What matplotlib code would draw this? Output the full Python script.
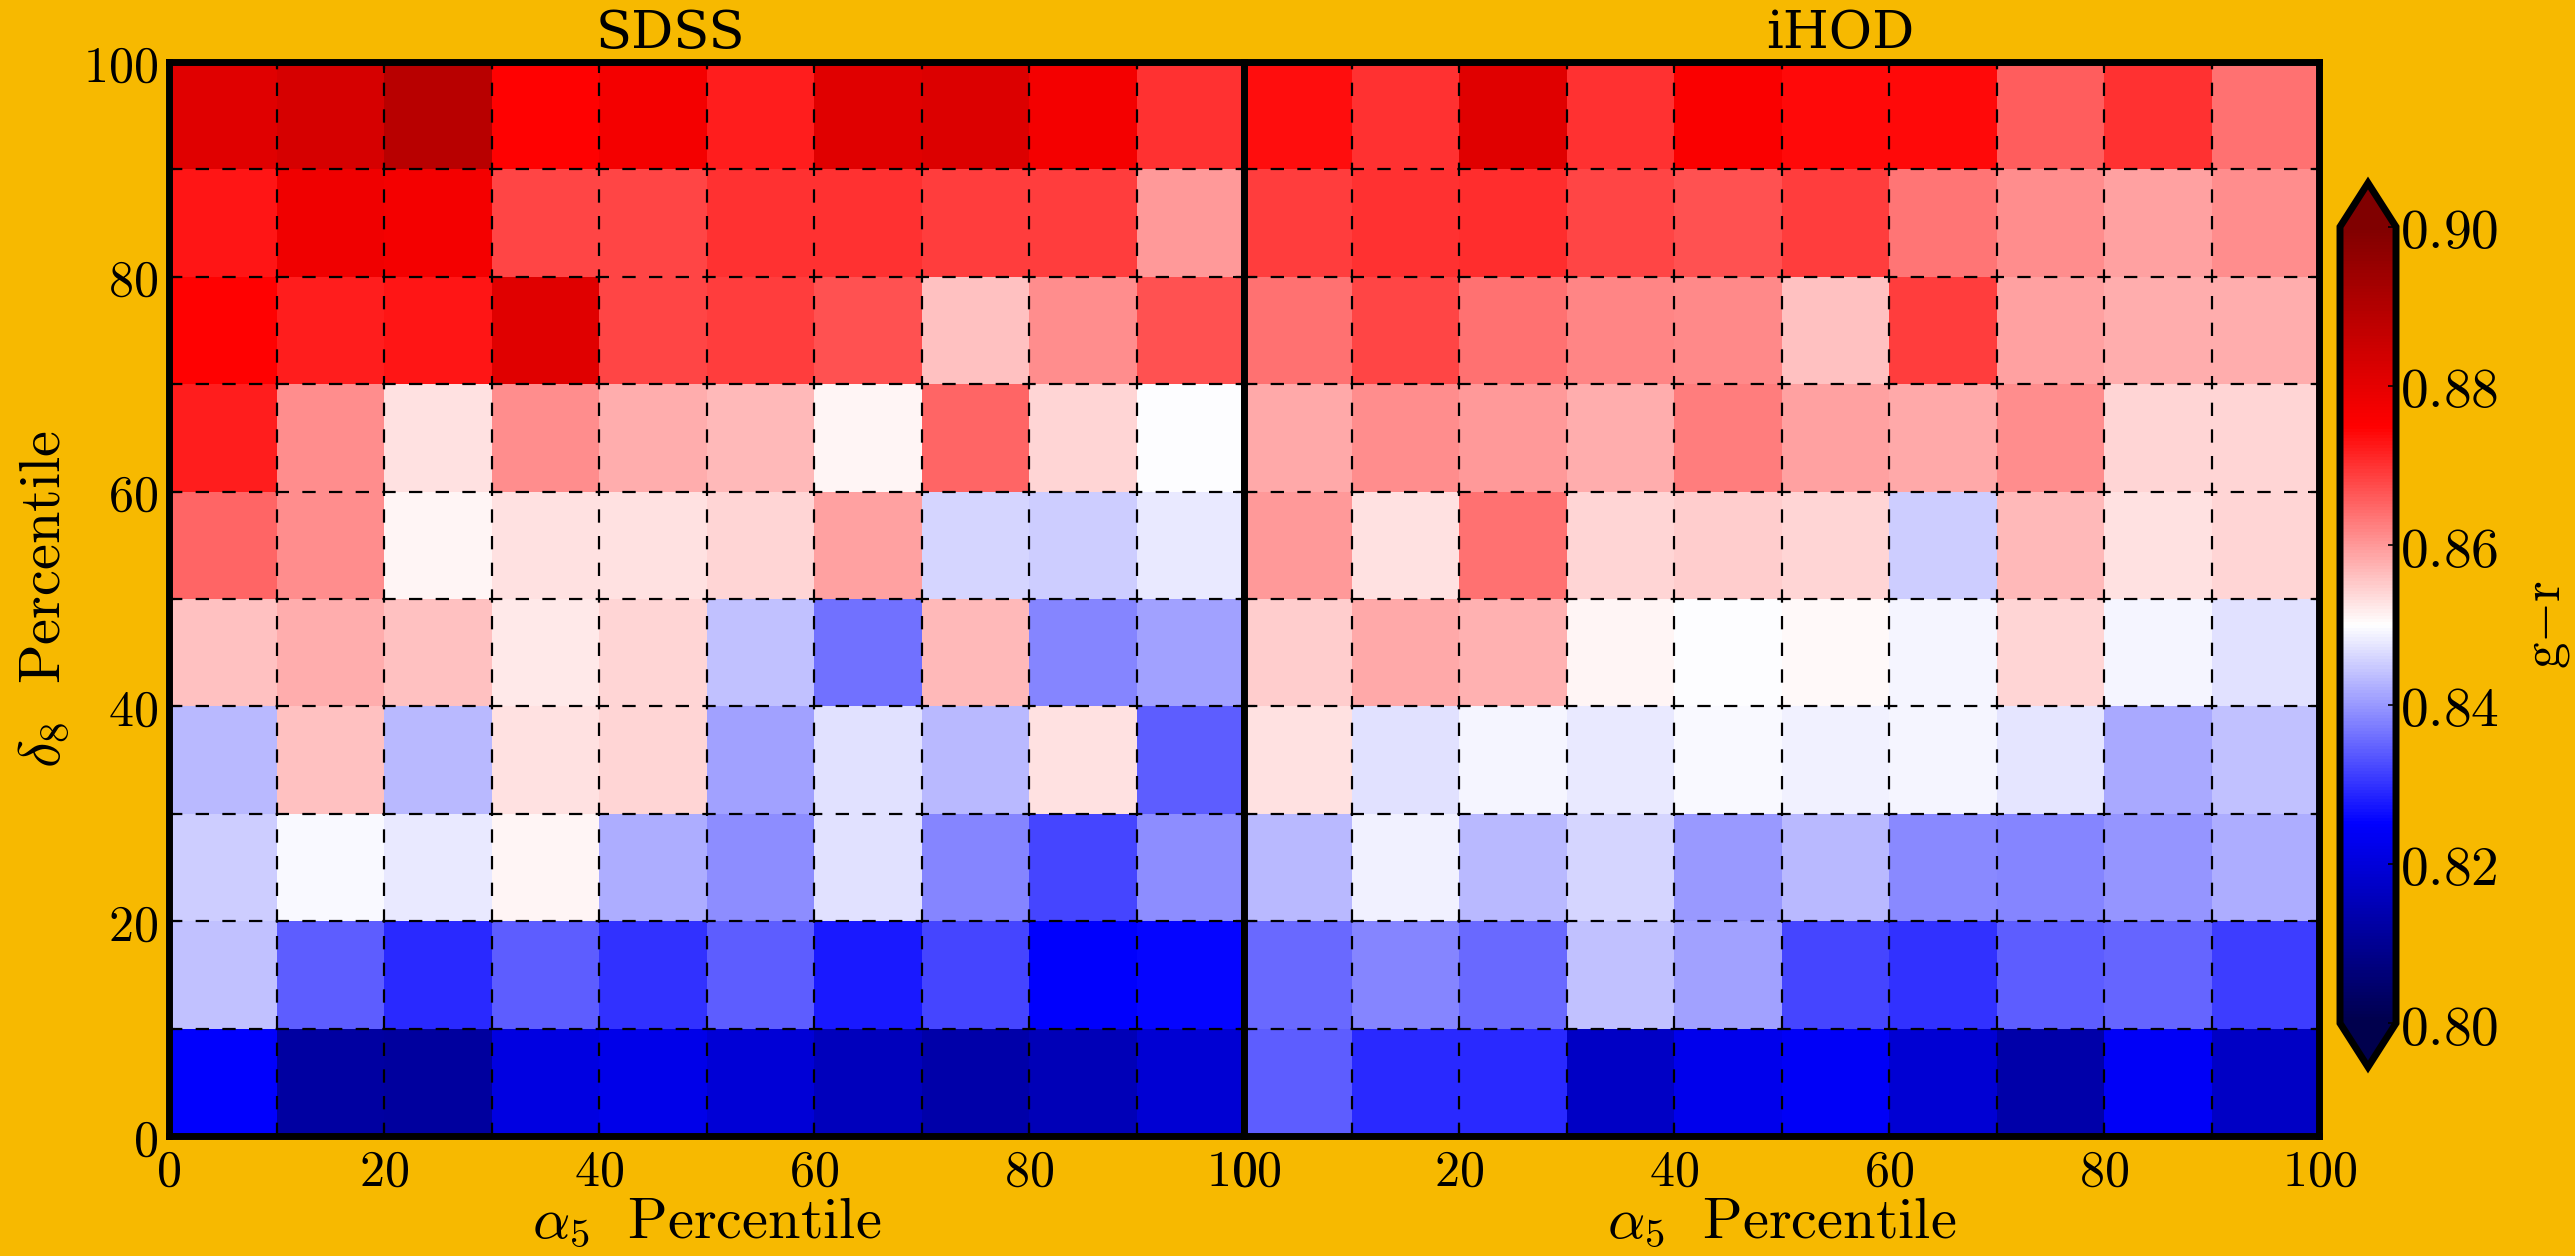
import numpy as np
import matplotlib
matplotlib.use("Agg")
import matplotlib.pyplot as plt
from matplotlib.ticker import MultipleLocator, FuncFormatter

# ---------------- data (rows listed from top: 90-100 percentile down to 0-10) -------------
percentile_edges = [0, 10, 20, 30, 40, 50, 60, 70, 80, 90, 100]
tick_values = [0, 20, 40, 60, 80, 100]
cbar_ticks = [0.80, 0.82, 0.84, 0.86, 0.88, 0.90]
panel_titles = ["SDSS", "iHOD"]

sdss_rows_top_down = [
    [0.881, 0.883, 0.889, 0.875, 0.877, 0.872, 0.881, 0.882, 0.877, 0.870],
    [0.873, 0.878, 0.877, 0.868, 0.868, 0.870, 0.870, 0.869, 0.869, 0.860],
    [0.875, 0.872, 0.873, 0.881, 0.868, 0.869, 0.867, 0.856, 0.861, 0.867],
    [0.872, 0.861, 0.853, 0.861, 0.858, 0.857, 0.851, 0.865, 0.854, 0.850],
    [0.865, 0.861, 0.851, 0.853, 0.853, 0.854, 0.859, 0.846, 0.845, 0.848],
    [0.856, 0.858, 0.856, 0.852, 0.854, 0.844, 0.836, 0.857, 0.838, 0.841],
    [0.843, 0.856, 0.843, 0.853, 0.854, 0.841, 0.847, 0.843, 0.853, 0.834],
    [0.845, 0.8495, 0.848, 0.851, 0.842, 0.839, 0.847, 0.838, 0.832, 0.839],
    [0.844, 0.834, 0.829, 0.834, 0.830, 0.834, 0.8275, 0.832, 0.825, 0.8255],
    [0.825, 0.812, 0.8115, 0.821, 0.822, 0.8195, 0.816, 0.813, 0.815, 0.819],
]

ihod_rows_top_down = [
    [0.8735, 0.870, 0.881, 0.870, 0.876, 0.874, 0.874, 0.866, 0.870, 0.864],
    [0.869, 0.870, 0.8705, 0.868, 0.867, 0.869, 0.8635, 0.861, 0.859, 0.861],
    [0.864, 0.868, 0.864, 0.862, 0.8615, 0.856, 0.869, 0.859, 0.858, 0.858],
    [0.8585, 0.861, 0.860, 0.858, 0.8625, 0.859, 0.8585, 0.861, 0.854, 0.854],
    [0.860, 0.853, 0.864, 0.854, 0.855, 0.854, 0.845, 0.857, 0.853, 0.854],
    [0.855, 0.8585, 0.8575, 0.851, 0.850, 0.8505, 0.849, 0.854, 0.849, 0.847],
    [0.853, 0.847, 0.849, 0.848, 0.8495, 0.8485, 0.849, 0.8475, 0.8415, 0.844],
    [0.843, 0.8485, 0.843, 0.846, 0.840, 0.843, 0.8385, 0.838, 0.8395, 0.842],
    [0.8355, 0.838, 0.8355, 0.844, 0.841, 0.832, 0.830, 0.834, 0.835, 0.831],
    [0.834, 0.829, 0.829, 0.817, 0.8225, 0.824, 0.819, 0.813, 0.824, 0.817],
]

# ---------------- style ----------------
BG = "#F7B900"
plt.rcParams["font.family"] = ["DejaVu Serif"]
plt.rcParams["mathtext.fontset"] = "cm"

fig = plt.figure(figsize=(25.75, 12.56), dpi=100, facecolor=BG)

left, right_edge, bottom, top = 169 / 2575, 2319 / 2575, 1 - 1136 / 1256, 1 - 62 / 1256
pw = (right_edge - left) / 2
ax1 = fig.add_axes([left, bottom, pw, top - bottom])
ax2 = fig.add_axes([left + pw, bottom, pw, top - bottom])

edges = np.array(percentile_edges)
datasets = [np.array(sdss_rows_top_down)[::-1], np.array(ihod_rows_top_down)[::-1]]
title_x = [0.466, 0.555]

int_fmt = FuncFormatter(lambda v, p: r"$%d$" % int(round(v)))

mesh = None
for ax, data, title, tx in zip([ax1, ax2], datasets, panel_titles, title_x):
    mesh = ax.pcolormesh(edges, edges, data, cmap="seismic", vmin=0.80, vmax=0.90)
    ax.set_xlim(0, 100)
    ax.set_ylim(0, 100)
    ax.set_xticks(tick_values)
    ax.set_yticks(tick_values)
    ax.xaxis.set_minor_locator(MultipleLocator(10))
    ax.yaxis.set_minor_locator(MultipleLocator(10))
    ax.xaxis.set_major_formatter(int_fmt)
    ax.yaxis.set_major_formatter(int_fmt)
    ax.grid(True, which="both", color="black", linestyle="--", linewidth=1.6, dashes=(6, 6))
    ax.set_axisbelow(False)
    for s in ax.spines.values():
        s.set_linewidth(5)
    ax.tick_params(axis="both", which="both", direction="in", top=True, right=True,
                   labelsize=36, width=1.5)
    ax.tick_params(which="major", length=8, pad=8)
    ax.tick_params(which="minor", length=4)
    ax.text(tx, 1.013, title, transform=ax.transAxes, ha="center", va="baseline", fontsize=38)
    ax.set_xlabel(r"$\alpha_5\ \ \mathrm{Percentile}$", fontsize=42, labelpad=-2)

ax1.set_ylabel(r"$\delta_8\ \ \mathrm{Percentile}$", fontsize=42, labelpad=8)
ax2.tick_params(axis="y", which="both", labelleft=False)

cax = fig.add_axes([2340 / 2575, 1 - 1067 / 1256, 56 / 2575, (1067 - 183) / 1256])
cb = fig.colorbar(mesh, cax=cax, extend="both", extendfrac=0.055, ticks=cbar_ticks)
cb.outline.set_linewidth(5)
cb.ax.yaxis.set_major_formatter(FuncFormatter(lambda v, p: r"$%.2f$" % v))
cb.ax.tick_params(direction="in", labelsize=40, length=6, width=1.2, pad=3)
cb.set_label(r"$\mathrm{g{-}r}$", fontsize=38, labelpad=16)

fig.savefig("out.png", dpi=100, facecolor=BG)
